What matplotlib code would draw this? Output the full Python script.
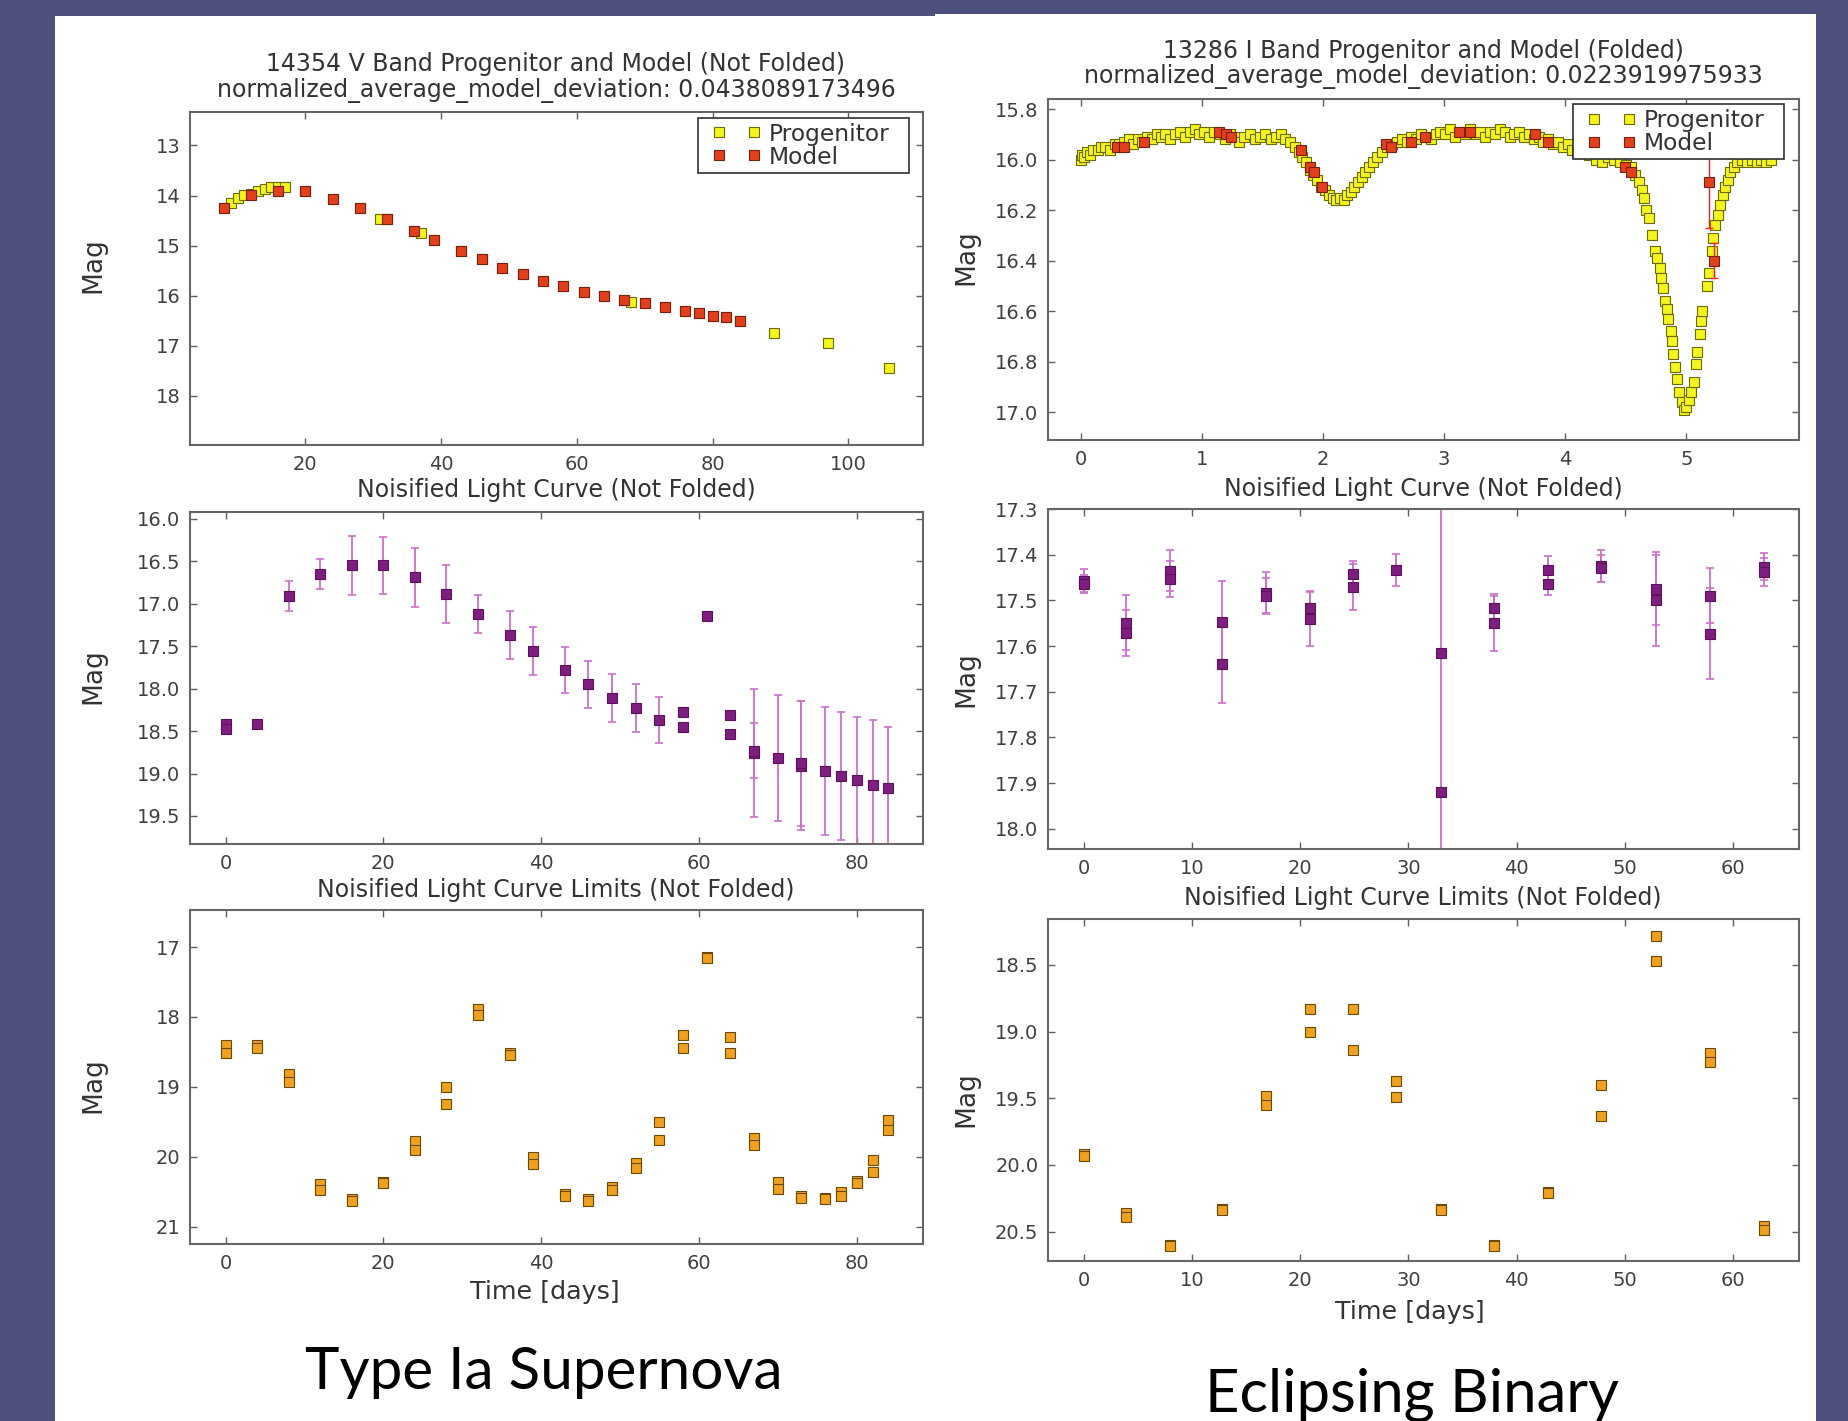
import numpy as np
import matplotlib
matplotlib.use("Agg")
import matplotlib.pyplot as plt
from matplotlib.patches import Rectangle
from matplotlib.path import Path

# ---------------- data ----------------
# Type Ia supernova: progenitor and model (not folded)
sn_prog_t = [8, 9, 10, 11, 12, 13, 14, 15, 16, 17, 20, 24, 28, 31, 32, 36, 37, 39, 43, 46, 49, 52, 55,
             58, 61, 64, 67, 68, 70, 73, 76, 78, 80, 82, 84, 89, 97, 106]
sn_prog_mag = [14.25, 14.15, 14.05, 13.99, 13.96, 13.92, 13.87, 13.84, 13.84, 13.84, 13.92, 14.07, 14.24,
               14.47, 14.47, 14.71, 14.74, 14.89, 15.12, 15.27, 15.45, 15.57, 15.71, 15.81, 15.92, 16.01,
               16.09, 16.12, 16.15, 16.24, 16.30, 16.35, 16.41, 16.43, 16.51, 16.75, 16.95, 17.45]
sn_model_t = [8, 12, 16, 20, 24, 28, 32, 36, 39, 43, 46, 49, 52, 55, 58, 61, 64, 67, 70, 73, 76, 78, 80, 82, 84]
sn_model_mag = [14.25, 13.99, 13.92, 13.92, 14.07, 14.24, 14.47, 14.71, 14.89, 15.12, 15.27, 15.45, 15.57,
                15.71, 15.81, 15.92, 16.01, 16.09, 16.15, 16.24, 16.30, 16.35, 16.41, 16.43, 16.51]

# Type Ia supernova: noisified light curve
sn_noisy_t = [0, 0, 4, 8, 12, 16, 20, 24, 28, 32, 36, 39, 43, 46, 49, 52, 55, 58, 58, 61, 64, 64,
              67, 67, 70, 73, 73, 76, 78, 80, 82, 84]
sn_noisy_mag = [18.42, 18.48, 18.42, 16.91, 16.65, 16.55, 16.55, 16.69, 16.89, 17.12, 17.37, 17.56, 17.78,
                17.95, 18.11, 18.23, 18.37, 18.27, 18.45, 17.14, 18.31, 18.53, 18.76, 18.73, 18.82, 18.91,
                18.88, 18.97, 19.03, 19.08, 19.14, 19.17]
sn_noisy_err = [0, 0, 0, 0.18, 0.18, 0.35, 0.34, 0.35, 0.34, 0.22, 0.28, 0.28, 0.27, 0.28, 0.28, 0.28,
                0.27, 0, 0, 0, 0, 0, 0.75, 0.32, 0.74, 0.76, 0.74, 0.75, 0.75, 0.75, 0.77, 0.72]

# Type Ia supernova: noisified light curve limits
sn_lim_t = [0, 0, 4, 4, 8, 8, 12, 12, 16, 16, 20, 20, 24, 24, 28, 28, 32, 32, 36, 36, 39, 39, 43, 43,
            46, 46, 49, 49, 52, 52, 55, 55, 58, 58, 61, 61, 64, 64, 67, 67, 70, 70, 73, 73, 76, 76,
            78, 78, 80, 80, 82, 82, 84, 84]
sn_lim_mag = [18.40, 18.51, 18.40, 18.44, 18.82, 18.93, 20.39, 20.48, 20.60, 20.63, 20.36, 20.38,
              19.77, 19.91, 19.00, 19.24, 17.89, 17.97, 18.52, 18.55, 20.00, 20.10, 20.53, 20.57,
              20.60, 20.63, 20.44, 20.48, 20.09, 20.16, 19.50, 19.76, 18.26, 18.45, 17.14, 17.15,
              18.29, 18.51, 19.74, 19.84, 20.36, 20.46, 20.56, 20.59, 20.59, 20.60, 20.51, 20.56,
              20.35, 20.37, 20.05, 20.22, 19.48, 19.62]

# Eclipsing binary: progenitor and model (folded)
eb_prog_phase = [0.00, 0.01, 0.03, 0.05, 0.08, 0.10, 0.14, 0.17, 0.20, 0.24, 0.28, 0.32, 0.36, 0.40,
                 0.43, 0.47, 0.51, 0.55, 0.59, 0.63, 0.66, 0.70, 0.74, 0.78, 0.82, 0.86, 0.90, 0.94,
                 0.98, 1.02, 1.06, 1.10, 1.15, 1.19, 1.23, 1.27, 1.31, 1.35, 1.40, 1.44, 1.48, 1.52,
                 1.57, 1.61, 1.65, 1.69, 1.73, 1.77, 1.80, 1.83, 1.86, 1.89, 1.92, 1.95, 1.98, 2.02,
                 2.05, 2.08, 2.11, 2.14, 2.17, 2.20, 2.23, 2.26, 2.29, 2.32, 2.35, 2.38, 2.41, 2.45,
                 2.49, 2.53, 2.57, 2.61, 2.65, 2.69, 2.73, 2.77, 2.81, 2.85, 2.89, 2.93, 2.97, 3.01,
                 3.05, 3.09, 3.13, 3.17, 3.21, 3.26, 3.30, 3.34, 3.38, 3.42, 3.46, 3.50, 3.54, 3.58,
                 3.62, 3.66, 3.70, 3.74, 3.78, 3.82, 3.86, 3.90, 3.94, 3.98, 4.02, 4.06, 4.10, 4.15,
                 4.20, 4.25, 4.30, 4.35, 4.40, 4.45, 4.50, 4.54, 4.58, 4.61, 4.63, 4.65, 4.67, 4.69,
                 4.72, 4.74, 4.76, 4.78, 4.79, 4.81, 4.82, 4.84, 4.85, 4.87, 4.88, 4.89, 4.91, 4.92,
                 4.94, 4.96, 4.98, 5.00, 5.02, 5.04, 5.06, 5.08, 5.09, 5.11, 5.12, 5.13, 5.17, 5.19,
                 5.21, 5.22, 5.24, 5.26, 5.28, 5.30, 5.32, 5.34, 5.36, 5.39, 5.42, 5.46, 5.50, 5.54,
                 5.58, 5.62, 5.66, 5.70]
eb_prog_mag = [16.00, 15.98, 15.99, 15.97, 15.98, 15.96, 15.96, 15.95, 15.95, 15.96, 15.94, 15.94, 15.93,
               15.92, 15.94, 15.92, 15.93, 15.91, 15.92, 15.90, 15.91, 15.90, 15.92, 15.90, 15.89, 15.91,
               15.89, 15.88, 15.90, 15.89, 15.91, 15.89, 15.90, 15.92, 15.90, 15.91, 15.93, 15.91, 15.90,
               15.92, 15.91, 15.90, 15.92, 15.91, 15.90, 15.92, 15.93, 15.95, 15.97, 15.99, 16.01, 16.04,
               16.06, 16.08, 16.11, 16.12, 16.14, 16.15, 16.16, 16.15, 16.16, 16.14, 16.13, 16.11, 16.09,
               16.07, 16.05, 16.03, 16.01, 15.99, 15.97, 15.95, 15.94, 15.93, 15.92, 15.93, 15.91, 15.92,
               15.90, 15.91, 15.92, 15.90, 15.89, 15.90, 15.88, 15.91, 15.89, 15.90, 15.88, 15.90, 15.89,
               15.91, 15.89, 15.90, 15.88, 15.89, 15.91, 15.90, 15.89, 15.91, 15.90, 15.92, 15.91, 15.93,
               15.92, 15.94, 15.93, 15.95, 15.94, 15.96, 15.97, 15.96, 15.98, 16.00, 16.01, 15.99, 16.00,
               16.01, 16.02, 16.03, 16.06, 16.09, 16.12, 16.15, 16.20, 16.23, 16.30, 16.36, 16.39, 16.43,
               16.47, 16.51, 16.56, 16.59, 16.63, 16.68, 16.72, 16.77, 16.82, 16.87, 16.92, 16.96, 16.99,
               16.98, 16.95, 16.92, 16.88, 16.81, 16.76, 16.69, 16.64, 16.60, 16.50, 16.45, 16.36, 16.31,
               16.26, 16.22, 16.18, 16.14, 16.11, 16.08, 16.05, 16.03, 16.01, 16.00, 16.01, 16.00, 16.01,
               16.00, 16.01, 16.00]
eb_model_phase = [0.30, 0.36, 0.52, 1.14, 1.20, 1.24, 1.82, 1.89, 1.93, 1.99, 2.52, 2.56, 2.73, 2.84,
                  3.12, 3.21, 3.75, 3.86, 4.49, 4.54, 5.19, 5.23]
eb_model_mag = [15.95, 15.95, 15.93, 15.89, 15.90, 15.91, 15.96, 16.03, 16.05, 16.11, 15.94, 15.95, 15.93,
                15.91, 15.89, 15.89, 15.90, 15.93, 16.03, 16.05, 16.09, 16.40]
eb_model_err = [0, 0, 0, 0, 0, 0, 0, 0, 0, 0, 0, 0, 0, 0, 0, 0, 0, 0, 0, 0, 0.18, 0.07]

# Eclipsing binary: noisified light curve
eb_noisy_t = [0, 0, 3.9, 3.9, 7.95, 7.95, 12.8, 12.8, 16.8, 16.8, 20.9, 20.9, 24.9, 24.9, 28.9,
              33.0, 33.0, 37.9, 37.9, 42.9, 42.9, 47.8, 47.8, 52.9, 52.9, 57.9, 57.9, 62.9, 62.9]
eb_noisy_mag = [17.457, 17.464, 17.549, 17.571, 17.435, 17.453, 17.547, 17.640, 17.483, 17.490,
                17.516, 17.540, 17.443, 17.470, 17.433, 17.615, 17.920, 17.516, 17.550, 17.433, 17.464,
                17.425, 17.430, 17.474, 17.500, 17.490, 17.573, 17.426, 17.438]
eb_noisy_err = [0.025, 0.02, 0.06, 0.05, 0.045, 0.04, 0.09, 0.085, 0.045, 0.04, 0.035, 0.06, 0.03,
                0.05, 0.035, 0.80, 0.0, 0.03, 0.06, 0.03, 0.025, 0.035, 0.03, 0.08, 0.10, 0.06, 0.10,
                0.03, 0.03]

# Eclipsing binary: noisified light curve limits
eb_lim_t = [0, 0, 3.9, 3.9, 7.95, 7.95, 12.8, 12.8, 16.8, 16.8, 20.9, 20.9, 24.9, 24.9, 28.9, 28.9,
            33.0, 33.0, 37.9, 37.9, 42.9, 42.9, 47.8, 47.8, 52.9, 52.9, 57.9, 57.9, 62.9, 62.9]
eb_lim_mag = [19.92, 19.93, 20.36, 20.39, 20.60, 20.61, 20.33, 20.34, 19.48, 19.55, 18.83, 19.00,
              18.83, 19.14, 19.37, 19.49, 20.33, 20.34, 20.60, 20.61, 20.20, 20.21, 19.40, 19.63,
              18.28, 18.47, 19.16, 19.23, 20.46, 20.49]

# ---------------- figure ----------------
W, H = 1849, 1421
fig = plt.figure(figsize=(W / 100, H / 100), dpi=100)
fig.patch.set_facecolor("#4f4f7d")


def fx(px):
    return px / W


def fy(py):
    return 1 - py / H


# white slide panels (behind everything)
fig.patches.append(Rectangle((fx(55), 0), fx(935) - fx(55), fy(16), transform=fig.transFigure,
                             facecolor="white", edgecolor="none", zorder=-10))
fig.patches.append(Rectangle((fx(935), 0), fx(1816) - fx(935), fy(14), transform=fig.transFigure,
                             facecolor="white", edgecolor="none", zorder=-10))

TXT = "#333333"
TICK_FS = 14
TITLE_FS = 17


def make_ax(x0, x1, y0, y1):
    ax = fig.add_axes([fx(x0), fy(y1), fx(x1) - fx(x0), (y1 - y0) / H])
    ax.set_zorder(5)
    for s in ax.spines.values():
        s.set_color("#666666")
        s.set_linewidth(1.5)
    ax.tick_params(direction="in", top=True, right=True, length=5, width=1, color="#606060",
                   labelsize=TICK_FS, labelcolor="#404040", pad=7)
    return ax


LX0, LX1 = 190, 923
RX0, RX1 = 1048, 1799

# ----- A1 -----
a1 = make_ax(LX0, LX1, 112, 445)
a1.plot(sn_prog_t, sn_prog_mag, "s", ms=6.8, mfc="#f4f41e", mec="#6b6b00", mew=0.8, label="Progenitor")
a1.plot(sn_model_t, sn_model_mag, "s", ms=6.8, mfc="#e2401c", mec="#7a2010", mew=0.8, label="Model")
a1.set_xlim(3, 111)
a1.set_ylim(18.99, 12.33)
a1.set_xticks([20, 40, 60, 80, 100])
a1.set_yticks([13, 14, 15, 16, 17, 18])

# ----- A2 -----
a2 = make_ax(LX0, LX1, 512, 844)
t = np.array(sn_noisy_t, float)
m = np.array(sn_noisy_mag, float)
e = np.array(sn_noisy_err, float)
k = e > 0
a2.errorbar(t[k], m[k], yerr=e[k], fmt="none", ecolor="#cc70cc", elinewidth=1.3, capsize=3, capthick=1.2)
a2.plot(t, m, "s", ms=7, mfc="#7e1f80", mec="#5a105a", mew=0.8)
a2.set_xlim(-4.5, 88.4)
a2.set_ylim(19.83, 15.92)
a2.set_xticks([0, 20, 40, 60, 80])
a2.set_yticks([16.0, 16.5, 17.0, 17.5, 18.0, 18.5, 19.0, 19.5])
a2.yaxis.set_major_formatter(matplotlib.ticker.FormatStrFormatter("%.1f"))

# ----- A3 -----
a3 = make_ax(LX0, LX1, 910, 1244)
a3.plot(sn_lim_t, sn_lim_mag, "s", ms=6.5, mfc="#f0a020", mec="#6a4a00", mew=0.8)
a3.set_xlim(-4.5, 88.4)
a3.set_ylim(21.25, 16.47)
a3.set_xticks([0, 20, 40, 60, 80])
a3.set_yticks([17, 18, 19, 20, 21])

# ----- B1 -----
b1 = make_ax(RX0, RX1, 99, 440)
b1.plot(eb_prog_phase, eb_prog_mag, "s", ms=7, mfc="#f4f41e", mec="#6b6b00", mew=0.8, label="Progenitor")
p = np.array(eb_model_phase, float)
pm = np.array(eb_model_mag, float)
pe = np.array(eb_model_err, float)
k = pe > 0
b1.errorbar(p[k], pm[k], yerr=pe[k], fmt="none", ecolor="#ff2020", elinewidth=1.0, capsize=3, capthick=1.0)
b1.plot(p, pm, "s", ms=7, mfc="#e2401c", mec="#7a2010", mew=0.8, label="Model")
b1.set_xlim(-0.27, 5.93)
b1.set_ylim(17.11, 15.76)
b1.set_xticks([0, 1, 2, 3, 4, 5])
b1.set_yticks([15.8, 16.0, 16.2, 16.4, 16.6, 16.8, 17.0])
b1.yaxis.set_major_formatter(matplotlib.ticker.FormatStrFormatter("%.1f"))

# ----- B2 -----
b2 = make_ax(RX0, RX1, 509, 849)
t = np.array(eb_noisy_t, float)
m = np.array(eb_noisy_mag, float)
e = np.array(eb_noisy_err, float)
k = e > 0
b2.errorbar(t[k], m[k], yerr=e[k], fmt="none", ecolor="#cc70cc", elinewidth=1.3, capsize=3, capthick=1.2)
b2.plot(t, m, "s", ms=7, mfc="#7e1f80", mec="#5a105a", mew=0.8)
b2.set_xlim(-3.3, 66.1)
b2.set_ylim(18.044, 17.3)
b2.set_xticks([0, 10, 20, 30, 40, 50, 60])
b2.set_yticks([17.3, 17.4, 17.5, 17.6, 17.7, 17.8, 17.9, 18.0])
b2.yaxis.set_major_formatter(matplotlib.ticker.FormatStrFormatter("%.1f"))

# ----- B3 -----
b3 = make_ax(RX0, RX1, 919, 1261)
b3.plot(eb_lim_t, eb_lim_mag, "s", ms=6.5, mfc="#f0a020", mec="#6a4a00", mew=0.8)
b3.set_xlim(-3.3, 66.1)
b3.set_ylim(20.72, 18.155)
b3.set_xticks([0, 10, 20, 30, 40, 50, 60])
b3.set_yticks([18.5, 19.0, 19.5, 20.0, 20.5])
b3.yaxis.set_major_formatter(matplotlib.ticker.FormatStrFormatter("%.1f"))


# legend frame with extra horizontal padding (classic-looking square box)
def wide_box(x0, y0, width, height, mutation_size):
    left = 0.4 * mutation_size
    right = 0.64 * mutation_size
    xa, xb = x0 - left, x0 + width + right
    return Path([(xa, y0), (xb, y0), (xb, y0 + height), (xa, y0 + height), (xa, y0)], closed=True)


for ax, anchor in ((a1, (0.9604, 0.982)), (b1, (0.960, 0.985))):
    leg = ax.legend(loc="upper right", bbox_to_anchor=anchor, borderaxespad=0, numpoints=2,
                    fontsize=16.8, fancybox=False, framealpha=1, edgecolor="#303030",
                    borderpad=0.2, labelspacing=0.0, handlelength=2.1, handletextpad=0.3)
    leg.get_frame().set_linewidth(1.2)
    leg.get_frame().set_boxstyle(wide_box)
    for txt in leg.get_texts():
        txt.set_color(TXT)

# y labels
for ax, yc in ((a1, 0.539), (a2, 0.507), (a3, 0.475)):
    ax.set_ylabel("Mag", fontsize=19, color=TXT)
    ax.yaxis.set_label_coords((106 - LX0) / (LX1 - LX0), yc)
for ax, yc in ((b1, 0.535), (b2, 0.5), (b3, 0.472)):
    ax.set_ylabel("Mag", fontsize=19, color=TXT)
    ax.yaxis.set_label_coords((979 - RX0) / (RX1 - RX0), yc)

# titles
fig.text(fx(556), fy(77.5), "14354 V Band Progenitor and Model (Not Folded)\n"
         "normalized_average_model_deviation: 0.0438089173496",
         ha="center", va="center", fontsize=TITLE_FS, color=TXT, linespacing=1.1)
fig.text(fx(1423), fy(64), "13286 I Band Progenitor and Model (Folded)\n"
         "normalized_average_model_deviation: 0.0223919975933",
         ha="center", va="center", fontsize=TITLE_FS, color=TXT, linespacing=1.1)
fig.text(fx(556), fy(490.5), "Noisified Light Curve (Not Folded)", ha="center", va="center",
         fontsize=TITLE_FS, color=TXT)
fig.text(fx(1423), fy(488.5), "Noisified Light Curve (Not Folded)", ha="center", va="center",
         fontsize=TITLE_FS, color=TXT)
fig.text(fx(556), fy(890.5), "Noisified Light Curve Limits (Not Folded)", ha="center", va="center",
         fontsize=TITLE_FS, color=TXT)
fig.text(fx(1423), fy(898.5), "Noisified Light Curve Limits (Not Folded)", ha="center", va="center",
         fontsize=TITLE_FS, color=TXT)

# x labels
fig.text(fx(545), fy(1291.5), "Time [days]", ha="center", va="center", fontsize=18.3, color=TXT)
fig.text(fx(1410), fy(1311.5), "Time [days]", ha="center", va="center", fontsize=18.3, color=TXT)

# slide captions
fig.text(fx(544), fy(1389), "Type Ia Supernova", ha="center", va="baseline", fontsize=42,
         family="Lato", color="black")
fig.text(fx(1412), fy(1412), "Eclipsing Binary", ha="center", va="baseline", fontsize=43,
         family="Lato", color="black")

fig.savefig("out.png", dpi=100, facecolor=fig.get_facecolor())
